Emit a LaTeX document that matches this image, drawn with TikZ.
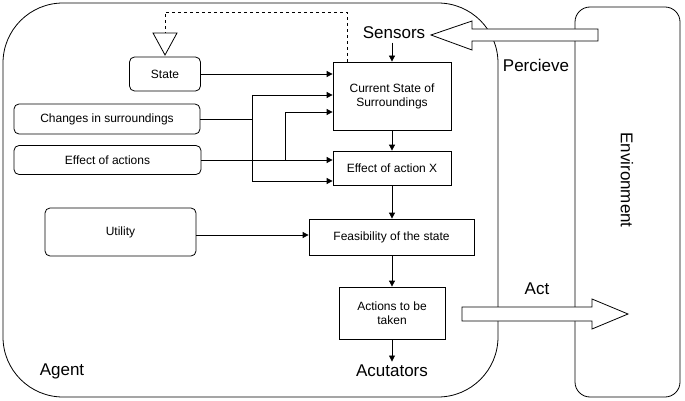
\documentclass[tikz,border=0pt]{standalone}
\usepackage{fontspec}
\setmainfont{Liberation Sans}
\usetikzlibrary{arrows.meta}
\begin{document}
\begin{tikzpicture}[x=1pt,y=-1pt,
  box/.style={draw,thick,fill=white,inner sep=0,font=\fontsize{12}{14}\selectfont,align=center},
  rbox/.style={box,rounded corners=5pt},
  big/.style={font=\fontsize{17}{20}\selectfont},
  arr/.style={thick,-{Triangle[length=6pt,width=6pt]}},
  blk/.style={draw,thick,fill=white}]
\useasboundingbox (0,0) rectangle (685,401);
\draw[thick,rounded corners=60pt] (3,3) rectangle (498,397);
\draw[thick,rounded corners=15pt] (575,7) rectangle (680,397);
\node[big,rotate=-90] (env) at (627,180) {Environment};
% block arrows
\draw[blk] (598,29) -- (472,29) -- (472,21) -- (431,35) -- (472,50) -- (472,41) -- (598,41) -- cycle;
\draw[blk] (462,307) -- (592,307) -- (592,299) -- (628,314) -- (592,329) -- (592,321) -- (462,321) -- cycle;
\node[big] (sens) at (394,33) {Sensors};
\node[big] (perc) at (536,65) {Percieve};
\node[big] (act) at (537,289) {Act};
\node[big] (agent) at (62,371) {Agent};
\node[big] (acu) at (392,371) {Acutators};
% boxes
\node[rbox,minimum width=71pt,minimum height=34pt] (state) at (165,74) {State};
\node[rbox,minimum width=186pt,minimum height=30pt] (chg) at (107,119) {Changes in surroundings};
\node[rbox,minimum width=187pt,minimum height=29pt] (eoa) at (107.5,160) {Effect of actions};
\node[rbox,minimum width=151pt,minimum height=48pt] (util) at (120.5,232) {Utility};
\node[box,minimum width=118pt,minimum height=68pt] (cur) at (392,96) {Current State of\\Surroundings};
\node[box,minimum width=118pt,minimum height=34pt] (efx) at (392,168) {Effect of action X};
\node[box,minimum width=165pt,minimum height=36pt] (feas) at (391.5,237) {Feasibility of the state};
\node[box,minimum width=106pt,minimum height=52pt] (atb) at (392,313) {Actions to be\\taken};
% triangle and dashed feedback
\coordinate (tri) at (165,33);
\draw[thick,fill=white] (153,33) -- (177,33) -- (165,55) -- cycle;
\draw[thick,dashed] (cur.north -| 347,0) -- (347,12) -- (165,12) -- (tri);
% connectors
\draw[arr] (state.east) -- (state.east -| cur.west);
\draw[thick] (chg.east) -- (252,119);
\draw[arr] (252,95) -- (cur.west |- 0,95);
\draw[arr] (252,95) -- (252,181) -- (efx.west |- 0,181);
\draw[arr] (eoa.east) -- (eoa.east -| efx.west);
\draw[arr] (285,160) -- (285,112) -- (cur.west |- 0,112);
\draw[arr] (sens.south -| cur.north) -- (cur.north);
\draw[arr] (cur.south) -- (efx.north);
\draw[arr] (efx.south) -- (efx.south |- feas.north);
\draw[arr] (feas.south -| atb.north) -- (atb.north);
\draw[arr] (atb.south) -- (acu.north -| atb.south);
\draw[arr] (util.east |- 0,235) -- (feas.west |- 0,235);
\end{tikzpicture}
\end{document}
